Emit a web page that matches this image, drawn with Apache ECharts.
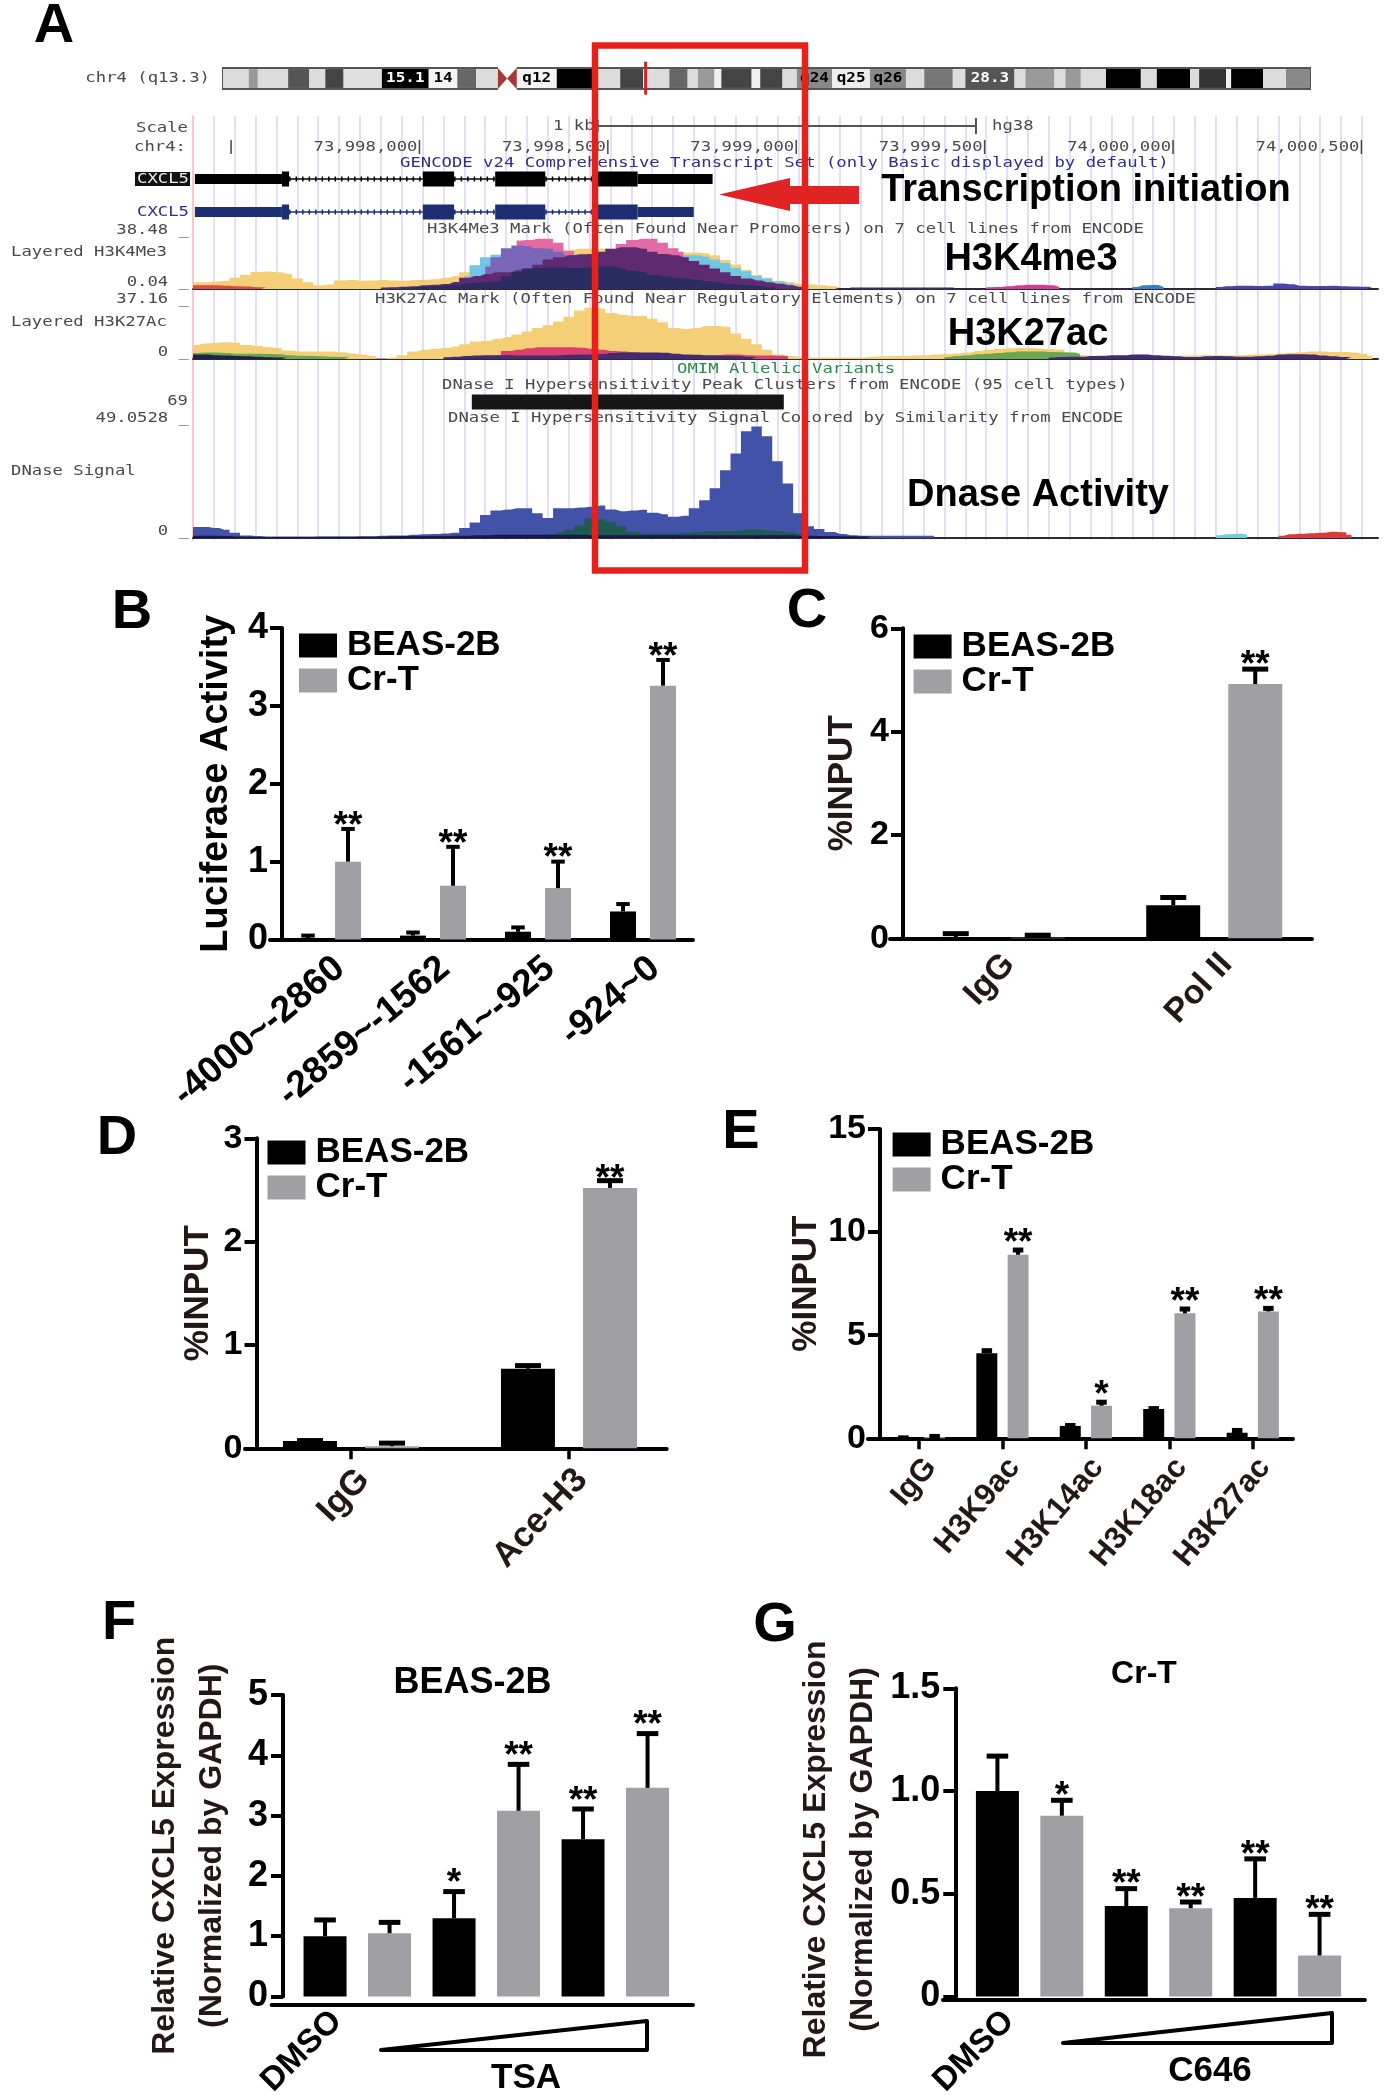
<!DOCTYPE html>
<html>
<head>
<meta charset="utf-8">
<script src="https://cdn.jsdelivr.net/npm/echarts@6/dist/echarts.min.js"></script>
<style>html,body{margin:0;padding:0;background:#fff}#c{width:1387px;height:2100px}</style>
</head>
<body>
<div id="c"></div>
<script>
// ---------- DATA ----------
const groupNames = ['BEAS-2B', 'Cr-T'];

const bCats = ['-4000~-2860', '-2859~-1562', '-1561~-925', '-924~0'];
const bBeas = [0.02, 0.05, 0.1, 0.36];
const bBeasErr = [0.05, 0.09, 0.155, 0.455];
const bCrt = [1.0, 0.69, 0.66, 3.26];
const bCrtErr = [1.42, 1.19, 1.0, 3.59];
const bStars = ['**', '**', '**', '**'];

const cCats = ['IgG', 'Pol II'];
const cBeas = [0.02, 0.64];
const cBeasErr = [0.09, 0.79];
const cCrt = [0.01, 4.92];
const cCrtErr = [0.06, 5.21];
const cStars = ['', '**'];

const dCats = ['IgG', 'Ace-H3'];
const dBeas = [0.07, 0.77];
const dBeasErr = [0.075, 0.8];
const dCrt = [0.02, 2.52];
const dCrtErr = [0.05, 2.59];
const dStars = ['', '**'];

const eCats = ['IgG', 'H3K9ac', 'H3K14ac', 'H3K18ac', 'H3K27ac'];
const eBeas = [0.02, 4.12, 0.6, 1.42, 0.27];
const eBeasErr = [0.02, 4.25, 0.62, 1.44, 0.38];
const eCrt = [0.06, 8.9, 1.58, 6.06, 6.15];
const eCrtErr = [0.09, 9.13, 1.75, 6.27, 6.3];
const eStars = ['', '**', '*', '**', '**'];

const fCats = ['DMSO', '', '', '', '', ''];
const fVals = [1.0, 1.05, 1.3, 3.08, 2.61, 3.46];
const fErr = [1.27, 1.23, 1.74, 3.85, 3.11, 4.36];
const fStars = ['', '', '*', '**', '**', '**'];

const gCats = ['DMSO', '', '', '', '', ''];
const gVals = [1.0, 0.88, 0.44, 0.43, 0.48, 0.2];
const gErr = [1.17, 0.955, 0.525, 0.46, 0.67, 0.4];
const gStars = ['', '*', '**', '**', '**', '**'];

// ideogram bands: end position (Mb), grey shade, optional label
const ideoEnds = [4.5, 6.1, 11.4, 15.1, 17.9, 21.1, 27.8, 36, 41, 44.3, 48.1, 51.4, 58.4, 65.6, 69.5, 73.5, 75.2, 78.1, 81.3, 83.1, 86, 87.2, 92.5, 94, 97.9, 100.4, 106.6, 113.2, 119.5, 122.7, 127.7, 129.9, 138.5, 140.4, 145.5, 147.4, 150.1, 154.5, 160.6, 163.4, 169.2, 170.8, 175.5, 176.4, 182, 186, 190.2];
const ideoShades = ['#dcdcdc', '#999', '#dcdcdc', '#555', '#dcdcdc', '#444', '#e0e0e0', '#000', '#f4f4f4', '#666', '#dcdcdc', '#fff', '#f4f4f4', '#000', '#dcdcdc', '#444', '#dcdcdc', '#dcdcdc', '#666', '#dcdcdc', '#999', '#f0f0f0', '#444', '#f0f0f0', '#444', '#dcdcdc', '#888', '#eee', '#888', '#dcdcdc', '#777', '#dcdcdc', '#555', '#dcdcdc', '#999', '#dcdcdc', '#999', '#dcdcdc', '#000', '#dcdcdc', '#000', '#dcdcdc', '#333', '#f0f0f0', '#000', '#dcdcdc', '#888'];
const ideoLabels = {7: ['15.1', '#fff'], 8: ['14', '#000'], 12: ['q12', '#000'], 26: ['q24', '#000'], 27: ['q25', '#000'], 28: ['q26', '#000'], 32: ['28.3', '#fff']};
const ideoCentromere = [48.1, 49.7, 51.4];
const ideoMarker = 73.95;

const bpTicks = [73997500, 73998000, 73998500, 73999000, 73999500, 74000000, 74000500];
const bpScale = [73998473, 73999477];
const clusterBar = [73998139, 73998967];
// gene model blocks: start, end, kind (0 intron, 1 utr, 2 coding)
const geneBlackBlocks = [[73997404, 73997635, 1], [73997635, 73997654, 2], [73997654, 73998009, 0], [73998009, 73998092, 2], [73998092, 73998201, 0], [73998201, 73998334, 2], [73998334, 73998473, 0], [73998473, 73998579, 2], [73998579, 73998778, 1]];
const geneBlueBlocks = [[73997404, 73997635, 1], [73997635, 73997654, 2], [73997654, 73998009, 0], [73998009, 73998092, 2], [73998092, 73998201, 0], [73998201, 73998334, 2], [73998334, 73998473, 0], [73998473, 73998579, 2], [73998579, 73998728, 1]];

// Layered tracks, one value per half guide interval
const k4Yellow = [4.8,4.8,5.3,5.8,8,10,12.2,12.5,12,10.6,7.4,4.8,2.6,3.2,6,6.4,5.8,6,6.4,6,5.8,6.4,6.6,6.9,8,9.3,12,15.4,20,22.6,25,27,27.6,28,28,28,28,28.7,28.7,28.7,28.7,28.7,28,27.6,27,26.5,26,26,26,25.5,24,20.7,17.5,13.8,10,8,5.8,4.8,3.7,3.2,2.6,2.1,1];
const k4Blue = [9,17,22.6,24.4,25,25,25,24,23,23,23,23,24,24,24,24,24,24,24,24,24,24,24,23,21,18.5,15,12.7,9.3,7.4,5.3,4,2.5];
const k4Pink = [34.5,35,35.8,35.8,33,27,24,23,23,23,32,35,35.8,35.8,33,29,26.5];
const k4Lav = [16,22.6,29,31,30.5,29,28.7,26.5,24,25,25,25,25,25,25,25,24,24,23];
const k4Purple = [1,1.3,1.6,2,2.6,3,3.6,5,8,9.3,10.6,12,12,13.3,14.6,17.2,21,22.6,24,24.4,25,26.5,28.7,29.7,29.7,28.7,26.5,25,24,22.6,20,17.2,14.6,12,9.3,7.4,6,4.8,3.7,2.6,1.6,1];
const k4Navy = [1,1.3,1.6,2,2.5,3,4,4.5,5,5.3,9.3,12,14.6,15,15.4,15.4,15,15,15.5,16,16,14.6,13,12,10,9,8,7.3,6.6,5.6,4.8,3.8,3.2,2.6,2.1,1.3,0.8];
const k4LeftRed = [2.6,2.6,2.6,2.4,2,1.8,1.2,1];
const k4TailPink = [1.2,1.5,2,2.6,3,3,2.6,1.5];
const k4TailBlue = [1.5,2.6,2.8,1.5];
const k4TailIndigo = [1.5,2,2.4,2.4,2.2,2.4,4,3.4,2.4,2.2,2.2,2.4,2,1.8,1.6,1.4];
const k4Base = [1,1,1,1,1,1,1,1,1,1,1];

const k27Yellow = [9.4,10.4,11,11.4,11,9.4,8.7,8,7.4,5.7,5,5,5,5,4.5,3.7,3,2,0.5,1,2.5,5,6.2,7,7.4,8.4,9.9,11.9,12.4,13.6,14.9,16.6,18.6,21,22.8,25.3,28.5,32.7,34.7,34.2,31,29.7,29,29,27.2,24.8,21,20.3,21,22.3,22.3,21.8,17.3,13.6,9.9,6.2,3,2,1.5,1,1,1,1,1,1.2,1.5,1.8,2,2,2.3,2.5,3,3.4,3.7,4.4,5.4,6.2,7,7.2,7.4,7.4,7,6.6,6.2,4,2.6,2.2,2,2,1.8,1.8,1.6,1.6,1.6,2,2.4,2.6,2.6,2.6,2.4,2.6,2.8,3,3.4,3.8,4.2,4.6,5,5,4.8,4.8,4.4,3.6,2.2];
const k27Green = [4,4.4,4.4,4,3.6,3.6,3.6,3.4,3.2,2.6,2.2,2,1.8,1.6,1.4,1.2];
const k27GreenRight = [1.4,2,2.6,3.2,3.6,4,4.6,5,5,5,4.8,4.6,4.4,3.4];
const k27Red = [1,1.5,2.5,5.4,6.2,7.2,8,8,8,8,7.6,7,6.2,5.4,5,4.6,4,3.4,3,2.4,2,1.8,1.8,2.6,3,3,2.6,2.4,2.4,2.2,2];
const k27Purple = [1.2,1.6,2,2.4,2.5,2.6,2.6,2.4,2.4,2.4,2.4,2.6,2.8,3,3,3.4,4,4.4,4.4,4.4,4.4,4.2,3.6,3,2.8,2.6,2.4,2.2,2,1.6,1.2];
const k27PurpleRight = [1,1.4,1.6,1.6,2,2.2,2.6,2.6,3,3,2.6,2.2,1.8,1.4,1.4,1.8,2,1.8,1.6,1.6,1.8,2.2,3,3.2,3.2,3,2.4,1.8,1.4,1.2];
const k27LeftNavy = [3,3,2.6,2.4,2,1.8,1.6,1.2,1,0.8];

const dnBlue = [4.7,4.7,4.2,3.5,2.2,1.1,0.8,0.6,0.6,0.6,0.6,0.6,0.6,0.6,0.6,0.6,0.6,0.6,0.9,1.1,1.1,1.4,1.6,1.7,1.9,2.2,4.2,6.6,9.7,11.6,12.1,12.6,12.6,10.5,8.5,12.6,12.6,12.9,13.2,13.7,12.1,11.3,11.6,11.9,10.7,10,9,9.4,12.6,16,21,28.6,35.7,45.1,47.2,43,32.5,23,10.5,5,3.8,2.5,1.7,1.2,1,1,1,1,1,1,1,1];
const dnTeal = [1,1.6,2.4,3.4,5.3,8.2,7.9,6.9,5,2.7,1.9,1.9,1.9,1.9,2.2,2.4,2.7,2.7,2.9,3.1,3.5,3.5,3.1,2.7,2.2,1.6,1];
const dnNavy = [1,1,0.9,0.8,0.6,0.5,0.4,0.4,0.4,0.4,0.4,0.4,0.5,0.5,0.5,0.5,0.6,0.6,0.6,0.7,0.8,0.8,0.8,0.8,0.8,0.9,1,1.2,1.2,1.4,1.4,1.4,1.4,1.4,1.4,1.4,1.4,1.4,1.2,1.2,1.2,1.2,1.2,1.2,1.2,1.2,1.2,1.2,1.2,1.2,1.2,1.2,1.2,1.2,1.2,1.2,1.2,1.2,1,1,0.8,0.8,0.7,0.7,0.6,0.6];
const dnRedTail = [1,1.6,1.8,2,2.2,2.6,2.4,1.4];
const dnCyanTail = [1.2,1.6,1.8,1.4];

// ---------- STYLE + LAYOUT ----------
const SANS = '"Liberation Sans", Arial, sans-serif';
const MONO = '"DejaVu Sans Mono", monospace';
const BROWN = '#231815';
const BLACK = '#000';
const GREY = '#a09fa3';
const MONO_GREY = '#4a4a4a';

const grids = [], xAxes = [], yAxes = [], series = [], legends = [], gfx = [];

function txt(s, x, y, o) {
  o = o || {};
  gfx.push({type: 'text', x, y: y + 3, z: o.z || 50, silent: true,
    style: {text: s, fontFamily: SANS, fontSize: o.size || 34, fontWeight: o.weight || 'bold',
      fill: o.fill || BLACK, align: o.align || 'center', verticalAlign: 'middle'}});
}
function mono(s, x, y, o) {
  o = o || {};
  gfx.push({type: 'text', x, y, scaleX: 1.19, z: 40, silent: true,
    style: {text: s, fontFamily: MONO, fontSize: 14.5, fontWeight: 'normal',
      fill: o.fill || MONO_GREY, align: o.align || 'left', verticalAlign: 'middle'}});
}

// ---------- PANEL A ----------
const X_MAX_GUIDE = 56.77;
function addGrid(g, x, y) {
  grids.push(g); x.gridIndex = grids.length - 1; y.gridIndex = grids.length - 1;
  xAxes.push(x); yAxes.push(y);
  return {x: xAxes.length - 1, y: yAxes.length - 1};
}
const HIDDEN_Y = {type: 'value', show: false, min: 0, max: 1, splitLine: {show: false}};

// Guide lines
const guideAx = addGrid({left: 193, top: 116, width: 1185, height: 424},
  {type: 'value', min: 0, max: X_MAX_GUIDE, interval: 1, axisLine: {show: false}, axisTick: {show: false}, axisLabel: {show: false},
   splitLine: {show: true, showMinLine: false, showMaxLine: false, lineStyle: {color: '#d9d9f4', width: 1.6}}},
  {type: 'value', min: 0, max: 1, axisLine: {show: true, onZero: false, lineStyle: {color: '#f6b6b6', width: 1.5}}, axisTick: {show: false}, axisLabel: {show: false}, splitLine: {show: false}});

function trackGrid(top, h, ymax) {
  return addGrid({left: 193, top, width: 1185, height: h},
    {type: 'value', min: 0, max: X_MAX_GUIDE, axisLine: {show: true, lineStyle: {color: '#2a2a3a', width: 2}}, axisTick: {show: false}, axisLabel: {show: false}, splitLine: {show: false}},
    {type: 'value', min: 0, max: ymax, show: false, splitLine: {show: false}});
}
function layer(ax, color, start, vals) {
  series.push({type: 'line', xAxisIndex: ax.x, yAxisIndex: ax.y, step: 'middle', symbol: 'none', silent: true,
    lineStyle: {width: 0}, areaStyle: {color, opacity: 1}, data: vals.map((v, i) => [(start + i) / 2, v])});
}
const t1 = trackGrid(235, 54, 38.48);
layer(t1, '#f5cf77', 0, k4Yellow);
layer(t1, '#72c6e4', 26, k4Blue);
layer(t1, '#e46aa6', 31, k4Pink);
layer(t1, '#7a66b8', 28, k4Lav);
layer(t1, '#5e2a72', 18, k4Purple);
layer(t1, '#2a2c62', 20, k4Navy);
layer(t1, '#e04a3c', 0, k4LeftRed);
layer(t1, '#d63b93', 76, k4TailPink);
layer(t1, '#3a7fc0', 90, k4TailBlue);
layer(t1, '#4a44a8', 98, k4TailIndigo);
layer(t1, '#3b2b66', 63, k4Base);

const t2 = trackGrid(304, 55, 37.16);
layer(t2, '#f5cf77', 0, k27Yellow);
layer(t2, '#6aa84f', 0, k27Green);
layer(t2, '#6aa84f', 72, k27GreenRight);
layer(t2, '#dd3f6c', 27, k27Red);
layer(t2, '#432a72', 24, k27Purple);
layer(t2, '#432a72', 82, k27PurpleRight);
layer(t2, '#20204e', 0, k27LeftNavy);

const t3 = trackGrid(422, 116, 49.05);
layer(t3, '#4252a8', 0, dnBlue);
layer(t3, '#1f5a50', 33, dnTeal);
layer(t3, '#18184e', 0, dnNavy);
layer(t3, '#d93a3a', 104, dnRedTail);
layer(t3, '#6fd0dc', 98, dnCyanTail);

// Genome-coordinate layer
const bpAx = addGrid({left: 193, top: 116, width: 1185, height: 424},
  {type: 'value', show: false, scale: true, min: 73997399, max: 74000544, splitLine: {show: false}},
  {type: 'value', show: false, inverse: true, min: 0, max: 424, splitLine: {show: false}});
const LANE_SCALE = 10, LANE_TICK = 31, LANE_BLACK = 63, LANE_BLUE = 96, LANE_CLUSTER = 286;

function geneSeries(blocks, lane, color) {
  series.push({type: 'custom', xAxisIndex: bpAx.x, yAxisIndex: bpAx.y, silent: true, clip: false,
    data: blocks.map(b => [b[0], lane, b[1], b[2]]),
    renderItem(p, api) {
      const a = api.coord([api.value(0), api.value(1)]), b = api.coord([api.value(2), api.value(1)]);
      const k = api.value(3);
      if (k === 0) return {type: 'group', children: [
        {type: 'line', shape: {x1: a[0], y1: a[1], x2: b[0], y2: b[1]}, style: {stroke: color, lineWidth: 1.5}},
        {type: 'line', shape: {x1: a[0], y1: a[1], x2: b[0], y2: b[1]}, style: {stroke: color, lineWidth: 5, lineDash: [1.5, 5]}}]};
      const h = k === 1 ? 10 : 15;
      return {type: 'rect', shape: {x: a[0], y: a[1] - h / 2, width: b[0] - a[0], height: h}, style: {fill: color}};
    }});
}
geneSeries(geneBlackBlocks, LANE_BLACK, '#000');
geneSeries(geneBlueBlocks, LANE_BLUE, '#1d2d72');

series.push({type: 'custom', xAxisIndex: bpAx.x, yAxisIndex: bpAx.y, silent: true, clip: false,
  data: [[clusterBar[0], LANE_CLUSTER, clusterBar[1]]],
  renderItem(p, api) {
    const a = api.coord([api.value(0), api.value(1)]), b = api.coord([api.value(2), api.value(1)]);
    return {type: 'rect', shape: {x: a[0], y: a[1] - 7.5, width: b[0] - a[0], height: 15}, style: {fill: '#161616'}};
  }});
series.push({type: 'custom', xAxisIndex: bpAx.x, yAxisIndex: bpAx.y, silent: true, clip: false,
  data: [[bpScale[0], LANE_SCALE, bpScale[1]]],
  renderItem(p, api) {
    const a = api.coord([api.value(0), api.value(1)]), b = api.coord([api.value(2), api.value(1)]);
    const st = {stroke: '#555', lineWidth: 2};
    return {type: 'group', children: [
      {type: 'line', shape: {x1: a[0], y1: a[1], x2: b[0], y2: b[1]}, style: st},
      {type: 'line', shape: {x1: a[0], y1: a[1] - 6, x2: a[0], y2: a[1] + 6}, style: st},
      {type: 'line', shape: {x1: b[0], y1: b[1] - 8, x2: b[0], y2: b[1] + 8}, style: st}]};
  }});
series.push({type: 'custom', xAxisIndex: bpAx.x, yAxisIndex: bpAx.y, silent: true, clip: false,
  data: bpTicks.map(t => [t, LANE_TICK]),
  renderItem(p, api) {
    const a = api.coord([api.value(0), api.value(1)]);
    const kids = [{type: 'line', shape: {x1: a[0], y1: a[1] - 7, x2: a[0], y2: a[1] + 7}, style: {stroke: '#444', lineWidth: 1.5}}];
    if (p.dataIndex > 0) kids.push({type: 'text', x: a[0] - 2, y: a[1], scaleX: 1.19,
      style: {text: api.value(0).toLocaleString('en-US'), fontFamily: MONO, fontSize: 14.5, fill: MONO_GREY, align: 'right', verticalAlign: 'middle'}});
    return {type: 'group', children: kids};
  }});

// Ideogram
const ideoAx = addGrid({left: 223, top: 68, width: 1087, height: 21, show: true, borderColor: '#555', borderWidth: 2, backgroundColor: '#fff'},
  {type: 'value', show: false, min: 0, max: 190.2, splitLine: {show: false}},
  Object.assign({}, HIDDEN_Y));
series.push({type: 'custom', xAxisIndex: ideoAx.x, yAxisIndex: ideoAx.y, silent: true, clip: false,
  data: ideoEnds.map((e, i) => [i ? ideoEnds[i - 1] : 0, e]),
  renderItem(p, api) {
    const i = p.dataIndex;
    const a = api.coord([api.value(0), 0.95]), b = api.coord([api.value(1), 0.05]);
    const kids = [{type: 'rect', shape: {x: a[0], y: a[1], width: b[0] - a[0], height: b[1] - a[1]}, style: {fill: ideoShades[i]}}];
    const l = ideoLabels[i];
    if (l) kids.push({type: 'text', x: (a[0] + b[0]) / 2, y: (a[1] + b[1]) / 2, scaleX: 1.1,
      style: {text: l[0], fontFamily: MONO, fontSize: 14.5, fontWeight: 'bold', fill: l[1], align: 'center', verticalAlign: 'middle'}});
    return {type: 'group', children: kids};
  }});
series.push({type: 'custom', xAxisIndex: ideoAx.x, yAxisIndex: ideoAx.y, silent: true, clip: false,
  data: [[ideoCentromere[0], ideoCentromere[1], ideoCentromere[2]]],
  renderItem(p, api) {
    const l = api.value(0), m = api.value(1), r = api.value(2);
    const P = (x, y) => api.coord([x, y]);
    const bg = {type: 'rect', shape: {x: P(l, 1)[0], y: P(l, 1.1)[1], width: P(r, 0)[0] - P(l, 0)[0], height: P(0, -0.1)[1] - P(0, 1.1)[1]}, style: {fill: '#fff'}};
    return {type: 'group', children: [bg,
      {type: 'polygon', shape: {points: [P(l, 1), P(l, 0), P(m, 0.5)]}, style: {fill: '#a83636'}},
      {type: 'polygon', shape: {points: [P(r, 1), P(r, 0), P(m, 0.5)]}, style: {fill: '#a83636'}}]};
  }});
series.push({type: 'custom', xAxisIndex: ideoAx.x, yAxisIndex: ideoAx.y, silent: true, clip: false,
  data: [[ideoMarker]],
  renderItem(p, api) {
    const a = api.coord([api.value(0), 1.3]), b = api.coord([api.value(0), -0.27]);
    return {type: 'line', shape: {x1: a[0], y1: a[1], x2: b[0], y2: b[1]}, style: {stroke: '#c8262c', lineWidth: 3}};
  }});

// Panel A texts
mono('chr4 (q13.3)', 210, 78, {align: 'right'});
mono('Scale', 188, 128, {align: 'right'});
mono('1 kb', 553, 126);
mono('hg38', 992, 126);
mono('chr4:', 186, 147.5, {align: 'right'});
mono('GENCODE v24 Comprehensive Transcript Set (only Basic displayed by default)', 400, 163, {fill: '#2f2f8c'});
gfx.push({type: 'rect', shape: {x: 135, y: 172, width: 55, height: 14}, style: {fill: '#111'}, z: 39, silent: true});
mono('CXCL5', 189, 179, {align: 'right', fill: '#eee'});
mono('CXCL5', 189, 212, {align: 'right', fill: '#2f2f8c'});
mono('38.48 _', 189, 230, {align: 'right'});
mono('H3K4Me3 Mark (Often Found Near Promoters) on 7 cell lines from ENCODE', 427, 229.6);
mono('Layered H3K4Me3', 11, 252);
mono('0.04 _', 189, 282, {align: 'right'});
mono('37.16 _', 189, 299, {align: 'right'});
mono('H3K27Ac Mark (Often Found Near Regulatory Elements) on 7 cell lines from ENCODE', 375, 299.6);
mono('Layered H3K27Ac', 11, 322);
mono('0 _', 189, 352, {align: 'right'});
mono('OMIM Allelic Variants', 677, 369, {fill: '#2a8a4a'});
mono('DNase I Hypersensitivity Peak Clusters from ENCODE (95 cell types)', 442, 385);
mono('69', 188, 401, {align: 'right'});
mono('49.0528 _', 189, 418.5, {align: 'right'});
mono('DNase I Hypersensitivity Signal Colored by Similarity from ENCODE', 448, 418.5);
mono('DNase Signal', 11, 471);
mono('0 _', 189, 531, {align: 'right'});

txt('Transcription initiation', 1086, 188, {size: 38});
txt('H3K4me3', 1031, 257, {size: 38});
txt('H3K27ac', 1028, 332, {size: 38});
txt('Dnase Activity', 1038, 493, {size: 38});

gfx.push({type: 'rect', shape: {x: 595, y: 45.5, width: 210, height: 525}, style: {fill: 'none', stroke: '#e8201c', lineWidth: 6.5}, z: 60, silent: true});
gfx.push({type: 'polygon', shape: {points: [[719, 194.5], [790, 178], [790, 186], [859, 186], [859, 204], [790, 204], [790, 211]]}, style: {fill: '#e02424'}, z: 61, silent: true});

// Panel letters
[['A', 54, 24], ['B', 132, 610], ['C', 807, 609], ['D', 117, 1136], ['E', 741, 1130], ['F', 119, 1621], ['G', 775, 1623]]
  .forEach(a => txt(a[0], a[1], a[2], {size: 56}));

// ---------- BAR PANELS ----------
function errSeries(ax, cats, vals, errs, stars, offset, capW, capH, starDy) {
  series.push({type: 'custom', xAxisIndex: ax.x, yAxisIndex: ax.y, silent: true, clip: false, z: 5,
    data: cats.map((c, i) => [i, errs[i], vals[i]]),
    renderItem(p, api) {
      const top = api.coord([api.value(0), api.value(1)]);
      const base = api.coord([api.value(0), api.value(2)]);
      const x = top[0] + offset;
      const kids = [
        {type: 'rect', shape: {x: x - 2, y: top[1], width: 4, height: base[1] - top[1]}, style: {fill: '#000'}},
        {type: 'rect', shape: {x: x - capW / 2, y: top[1] - capH / 2, width: capW, height: capH}, style: {fill: '#000'}}];
      const s = stars[p.dataIndex];
      if (s) kids.push({type: 'text', x, y: top[1] + starDy,
        style: {text: s, fontFamily: SANS, fontSize: 37, fontWeight: 'bold', fill: '#000', align: 'center', verticalAlign: 'bottom'}});
      return {type: 'group', children: kids};
    }});
}

function panel(c) {
  // axis line frame
  addGrid({left: c.lineStart, width: c.lineEnd - c.lineStart, top: c.top, height: c.height},
    {type: 'value', min: 0, max: 1, axisLine: {show: true, lineStyle: {color: '#000', width: 4}}, axisTick: {show: false}, axisLabel: {show: false}, splitLine: {show: false}},
    {type: 'value', min: 0, max: 1, show: false, splitLine: {show: false}});
  return addGrid({left: c.left, width: c.width, top: c.top, height: c.height},
    {type: 'category', data: c.cats, axisLine: {show: false},
     axisTick: {show: !!c.ticks, alignWithLabel: true, length: 11, lineStyle: {color: '#000', width: 3.5}},
     axisLabel: {interval: 0, rotate: c.rotate || 45, align: 'right', verticalAlign: 'top', margin: c.labelMargin, hideOverlap: false,
       fontFamily: SANS, fontWeight: 'bold', fontSize: c.labelSize, color: c.labelColor}},
    {type: 'value', min: 0, max: c.max, interval: c.interval, offset: c.left - c.axisX,
     axisLine: {show: true, lineStyle: {color: '#000', width: 4}},
     axisTick: {show: true, length: 12, lineStyle: {color: '#000', width: 4}},
     axisLabel: {margin: c.yMargin, fontFamily: SANS, fontWeight: 'bold', fontSize: c.ySize, color: '#000', formatter: c.yFmt},
     splitLine: {show: false},
     name: c.yName, nameLocation: 'middle', nameRotate: 90, nameGap: c.nameGap,
     nameTextStyle: {fontFamily: SANS, fontWeight: 'bold', fontSize: c.nameSize, color: c.nameColor, lineHeight: c.nameLH || c.nameSize, padding: c.namePad || 0}});
}

function twoGroup(c) {
  const ax = panel(c);
  const gap = Math.round((2 * c.off - c.barW) / c.barW * 100) + '%';
  [[groupNames[0], BLACK, c.beas], [groupNames[1], GREY, c.crt]].forEach(s => {
    series.push({name: s[0], type: 'bar', xAxisIndex: ax.x, yAxisIndex: ax.y, barWidth: c.barW, barGap: gap, silent: true, z: 3,
      itemStyle: {color: s[1]}, data: s[2]});
  });
  errSeries(ax, c.cats, c.beas, c.beasErr, c.cats.map(() => ''), -c.off, c.capW, c.capH, c.starDy);
  errSeries(ax, c.cats, c.crt, c.crtErr, c.stars, c.off, c.capW, c.capH, c.starDy);
  legends.push({show: true, orient: 'vertical', left: c.legX, top: c.legY, icon: 'rect', itemWidth: 38, itemHeight: 24, itemGap: 0,
    selectedMode: false, data: groupNames, padding: 0,
    textStyle: {fontFamily: SANS, fontWeight: 'bold', fontSize: 35, color: '#000', padding: [0, 0, 0, 5]}});
}

function sixBars(c) {
  const ax = panel(c);
  series.push({type: 'bar', xAxisIndex: ax.x, yAxisIndex: ax.y, barWidth: 43, silent: true, z: 3,
    data: c.vals.map((v, i) => ({value: v, itemStyle: {color: i % 2 ? GREY : BLACK}}))});
  errSeries(ax, c.cats, c.vals, c.errs, c.stars, 0, 21.6, 5, c.starDy);
}

twoGroup({cats: bCats, beas: bBeas, beasErr: bBeasErr, crt: bCrt, crtErr: bCrtErr, stars: bStars, starDy: 16,
  left: 275.5, width: 420, top: 628, height: 311.5, axisX: 282, lineStart: 270, lineEnd: 693,
  max: 4, interval: 1, yName: 'Luciferase Activity', nameGap: 46, nameSize: 38, nameColor: '#000', ySize: 36, yMargin: 14,
  labelSize: 37, rotate: 40, labelColor: '#000', labelMargin: 10, barW: 26, off: 20, capW: 13.5, capH: 4, legX: 299, legY: 628});

twoGroup({cats: cCats, beas: cBeas, beasErr: cBeasErr, crt: cCrt, crtErr: cCrtErr, stars: cStars, starDy: 15,
  left: 888, width: 435, top: 628.3, height: 310, axisX: 903, lineStart: 890, lineEnd: 1312,
  max: 6, interval: 2, yName: '%INPUT', nameGap: 43, nameSize: 35, nameColor: BROWN, ySize: 34, yMargin: 14,
  labelSize: 34, rotate: 47, labelColor: BROWN, labelMargin: 9, barW: 54, off: 41, capW: 26, capH: 5, legX: 913.6, legY: 629});

twoGroup({cats: dCats, beas: dBeas, beasErr: dBeasErr, crt: dCrt, crtErr: dCrtErr, stars: dStars, starDy: 18,
  left: 242, width: 436, top: 1138.3, height: 310, axisX: 256.5, lineStart: 245, lineEnd: 666.7, ticks: true,
  max: 3, interval: 1, yName: '%INPUT', nameGap: 41, nameSize: 35, nameColor: BROWN, ySize: 34, yMargin: 14,
  labelSize: 35, rotate: 47, labelColor: BROWN, labelMargin: 14, barW: 54, off: 41, capW: 26, capH: 5, legX: 267.5, legY: 1135});

twoGroup({cats: eCats, beas: eBeas, beasErr: eBeasErr, crt: eCrt, crtErr: eCrtErr, stars: eStars, starDy: 12,
  left: 877.3, width: 417.2, top: 1129, height: 309.3, axisX: 880, lineStart: 868, lineEnd: 1293, ticks: true,
  max: 15, interval: 5, yName: '%INPUT', nameGap: 56, nameSize: 35, nameColor: BROWN, ySize: 34, yMargin: 14,
  labelSize: 31, rotate: 50, labelColor: BROWN, labelMargin: 14, barW: 21, off: 15.6, capW: 10.5, capH: 5, legX: 892.6, legY: 1127});

sixBars({cats: fCats, vals: fVals, errs: fErr, stars: fStars, starDy: 11,
  left: 292.8, width: 387, top: 1695, height: 309.3, axisX: 283, lineStart: 271.6, lineEnd: 693,
  max: 5, interval: 1, yName: 'Relative CXCL5 Expression\n(Normalized by GAPDH)', nameGap: 47, nameSize: 32, nameLH: 47, nameColor: BROWN, ySize: 36, yMargin: 15,
  labelSize: 33, labelColor: '#000', labelMargin: 8});

sixBars({cats: gCats, vals: gVals, errs: gErr, stars: gStars, starDy: 15,
  left: 965.2, width: 386.6, top: 1688.3, height: 311, axisX: 955.3, lineStart: 943, lineEnd: 1365,
  max: 1.5, interval: 0.5, yName: 'Relative CXCL5 Expression\n(Normalized by GAPDH)', nameGap: 59, nameSize: 32, nameLH: 47, nameColor: BROWN, namePad: [0, 14, 0, 0], ySize: 36, yMargin: 15,
  yFmt: v => v === 0 ? '0' : v.toFixed(1),
  labelSize: 33, labelColor: '#000', labelMargin: 8});

txt('BEAS-2B', 472.4, 1680, {size: 36});
txt('Cr-T', 1144, 1671, {size: 32});
txt('TSA', 526, 2075, {size: 35});
txt('C646', 1210, 2068, {size: 35});
gfx.push({type: 'polygon', shape: {points: [[381, 2050], [647, 2021], [647, 2050]]}, style: {fill: 'none', stroke: '#000', lineWidth: 4, lineJoin: 'round'}, z: 40, silent: true});
gfx.push({type: 'polygon', shape: {points: [[1063, 2043], [1332, 2013], [1332, 2043]]}, style: {fill: 'none', stroke: '#000', lineWidth: 4, lineJoin: 'round'}, z: 40, silent: true});

const chart = echarts.init(document.getElementById('c'), null, {renderer: 'canvas'});
chart.setOption({
  animation: false, backgroundColor: '#fff', tooltip: {show: false},
  grid: grids, xAxis: xAxes, yAxis: yAxes, series, legend: legends,
  graphic: {elements: gfx}
});
</script>
</body>
</html>
